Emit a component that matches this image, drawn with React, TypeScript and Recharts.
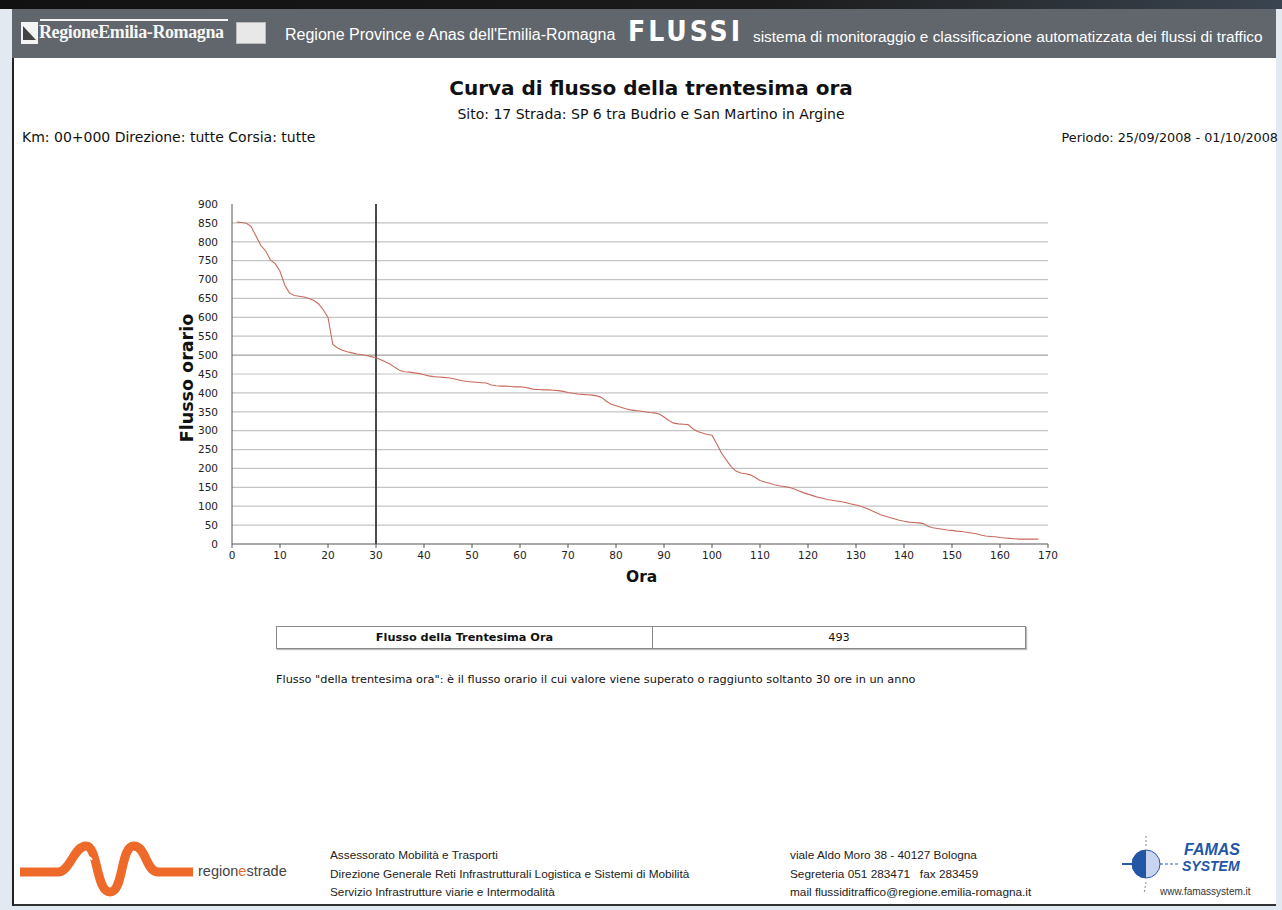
import React from 'react';
import { LineChart, Line, XAxis, YAxis, ReferenceLine } from 'recharts';

const hours: number[] = [
  1, 2, 3, 4, 5, 6, 7, 8, 9, 10, 11, 12, 13, 14, 15, 16, 17, 18, 19, 20,
  21, 22, 23, 24, 25, 26, 27, 28, 29, 30, 31, 32, 33, 34, 35, 36, 37, 38, 39, 40,
  41, 42, 43, 44, 45, 46, 47, 48, 49, 50, 51, 52, 53, 54, 55, 56, 57, 58, 59, 60,
  61, 62, 63, 64, 65, 66, 67, 68, 69, 70, 71, 72, 73, 74, 75, 76, 77, 78, 79, 80,
  81, 82, 83, 84, 85, 86, 87, 88, 89, 90, 91, 92, 93, 94, 95, 96, 97, 98, 99, 100,
  101, 102, 103, 104, 105, 106, 107, 108, 109, 110, 111, 112, 113, 114, 115, 116, 117, 118, 119, 120,
  121, 122, 123, 124, 125, 126, 127, 128, 129, 130, 131, 132, 133, 134, 135, 136, 137, 138, 139, 140,
  141, 142, 143, 144, 145, 146, 147, 148, 149, 150, 151, 152, 153, 154, 155, 156, 157, 158, 159, 160,
  161, 162, 163, 164, 165, 166, 167, 168,
];

const flows: number[] = [
  852, 851, 849, 840, 815, 790, 776, 752, 742, 722, 685, 664, 658, 656, 654, 650, 645, 636, 620, 600,
  528, 519, 513, 509, 506, 503, 501, 499, 496, 493, 488, 482, 476, 467, 459, 456, 455, 453, 451, 448,
  445, 443, 442, 441, 440, 438, 435, 432, 430, 429, 428, 427, 426, 421, 419, 418, 418, 417, 416, 416,
  415, 412, 409, 409, 408, 408, 407, 406, 404, 401, 399, 397, 396, 395, 394, 392, 388, 378, 370, 366,
  362, 358, 355, 353, 352, 350, 348, 347, 344, 336, 327, 320, 318, 317, 316, 305, 298, 294, 290, 288,
  265, 240, 222, 205, 193, 188, 186, 183, 176, 168, 164, 161, 157, 154, 152, 150, 146, 141, 136, 132,
  128, 124, 121, 118, 116, 114, 112, 109, 106, 103, 100, 95, 90, 84, 78, 74, 70, 67, 63, 60,
  58, 57, 56, 54, 47, 43, 41, 39, 37, 36, 34, 33, 31, 29, 27, 24, 21, 20, 19, 17,
  16, 15, 14, 13, 13, 13, 13, 13,
];

const xTicks: number[] = [0, 10, 20, 30, 40, 50, 60, 70, 80, 90, 100, 110, 120, 130, 140, 150, 160, 170];
const yTicks: number[] = [0, 50, 100, 150, 200, 250, 300, 350, 400, 450, 500, 550, 600, 650, 700, 750, 800, 850, 900];
const gridValues: number[] = [50, 100, 150, 200, 250, 300, 350, 400, 450, 500, 550, 600, 650, 700, 750, 800, 850];
const thirtiethHour = 30;
const thirtiethFlow = 493;

const data = hours.map((h, i) => ({ hour: h, flow: flows[i] }));

const sans = "'DejaVu Sans', Verdana, sans-serif";
const arial = "'Liberation Sans', Arial, sans-serif";

const abs = (left: number, top: number, extra: React.CSSProperties = {}): React.CSSProperties => ({
  position: 'absolute',
  left,
  top,
  whiteSpace: 'nowrap',
  ...extra,
});

export default function App() {
  return (
    <div style={{ position: 'absolute', left: 0, top: 0, width: 1282, height: 910, overflow: 'hidden', background: '#e3e9f0', fontFamily: sans }}>
      {/* top dark strip */}
      <div style={abs(0, 0, { width: 1282, height: 9, background: 'linear-gradient(90deg,#111 0%,#1b1b1b 60%,#3a4450 100%)' })} />
      {/* page frame */}
      <div style={abs(12, 9, { width: 1264, height: 897, background: '#ffffff', borderLeft: '2px solid #222', borderBottom: '2px solid #333', boxSizing: 'border-box' })} />
      {/* header bar */}
      <div style={abs(12, 9, { width: 1264, height: 49, background: '#60666c' })} />
      {/* Regione logo */}
      <div style={abs(21, 22, { width: 17, height: 22, background: '#f4f4f4' })} />
      <svg style={abs(21, 22)} width={17} height={22}>
        <path d="M2,4 L15,18 L2,18 Z" fill="#444" />
      </svg>
      <div style={abs(40, 19, { width: 188, height: 2, background: '#f4f4f4' })} />
      <div style={abs(39, 22, { color: '#f6f6f6', fontFamily: "'Liberation Serif', 'DejaVu Serif', serif", fontWeight: 'bold', fontSize: 18, letterSpacing: -0.4 })}>
        RegioneEmilia-Romagna
      </div>
      <div style={abs(236, 22, { width: 30, height: 22, background: '#e8e8e8', border: '1px solid #bbb', boxSizing: 'border-box' })} />
      <div style={abs(285, 26, { color: '#ffffff', fontFamily: arial, fontSize: 16 })}>
        Regione Province e Anas dell'Emilia-Romagna
      </div>
      <div style={abs(628, 15, { color: '#ffffff', fontFamily: "'DejaVu Sans Condensed', 'DejaVu Sans', sans-serif", fontWeight: 'bold', fontSize: 28, letterSpacing: 3 })}>
        FLUSSI
      </div>
      <div style={abs(753, 28, { color: '#ffffff', fontFamily: arial, fontSize: 15.4 })}>
        sistema di monitoraggio e classificazione automatizzata dei flussi di traffico
      </div>

      {/* titles */}
      <div style={abs(0, 76, { width: 1302, textAlign: 'center', fontSize: 20, fontWeight: 'bold', color: '#111' })}>
        Curva di flusso della trentesima ora
      </div>
      <div style={abs(0, 106, { width: 1302, textAlign: 'center', fontSize: 14, color: '#111' })}>
        Sito: 17 Strada: SP 6 tra Budrio e San Martino in Argine
      </div>
      <div style={abs(22, 129, { fontSize: 14, color: '#111' })}>
        Km: 00+000 Direzione: tutte Corsia: tutte
      </div>
      <div style={abs(878, 130, { width: 400, textAlign: 'right', fontSize: 12.8, color: '#111' })}>
        Periodo: 25/09/2008 - 01/10/2008
      </div>

      {/* chart */}
      <div style={abs(150, 190)}>
        <LineChart width={920} height={420} data={data} margin={{ top: 14, right: 22, bottom: 26, left: 22 }}>
          {gridValues.map((v) => (
            <ReferenceLine key={v} y={v} stroke={v === 500 ? '#a0a0a0' : '#c4c4c4'} strokeWidth={1.2} ifOverflow="extendDomain" />
          ))}
          <XAxis
            dataKey="hour"
            type="number"
            domain={[0, 170]}
            ticks={xTicks}
            interval={0}
            stroke="#555"
            tickSize={4}
            tickMargin={4}
            tick={{ fontSize: 10.5, fill: '#222', fontFamily: sans }}
            height={40}
          />
          <YAxis
            type="number"
            domain={[0, 900]}
            ticks={yTicks}
            interval={0}
            stroke="#555"
            tickLine={false}
            tickMargin={8}
            tick={{ fontSize: 10.5, fill: '#222', fontFamily: sans }}
            width={60}
          />
          <ReferenceLine x={thirtiethHour} stroke="#4a4a4a" strokeWidth={2} />
          <Line
            type="linear"
            dataKey="flow"
            stroke="#c96a5e"
            strokeWidth={1.1}
            dot={false}
            isAnimationActive={false}
          />
        </LineChart>
      </div>
      <div style={abs(626, 568, { fontSize: 15.5, fontWeight: 'bold', color: '#111' })}>Ora</div>
      <div style={abs(187, 378, { fontSize: 17.5, fontWeight: 'bold', color: '#111', transform: 'translate(-50%,-50%) rotate(-90deg)' })}>
        Flusso orario
      </div>

      {/* table */}
      <div style={abs(276, 626, { width: 750, height: 23, border: '1px solid #8a8a8a', boxSizing: 'border-box', display: 'flex', fontSize: 11.3, color: '#111', boxShadow: '1px 1px 1px #bbb' })}>
        <div style={{ width: 375, borderRight: '1px solid #8a8a8a', textAlign: 'center', fontWeight: 'bold', lineHeight: '21px' }}>
          Flusso della Trentesima Ora
        </div>
        <div style={{ flex: 1, textAlign: 'center', lineHeight: '21px' }}>{thirtiethFlow}</div>
      </div>
      <div style={abs(276, 673, { fontSize: 11.3, color: '#111' })}>
        Flusso "della trentesima ora": è il flusso orario il cui valore viene superato o raggiunto soltanto 30 ore in un anno
      </div>

      {/* footer: regionestrade logo */}
      <svg style={abs(18, 838)} width={180} height={60}>
        <path d="M2,34 L40,34 C52,34 56,8 68,8 C80,8 78,54 92,54 C106,54 102,8 116,8 C128,8 128,34 140,34 L175,34" fill="none" stroke="#ee6a2a" strokeWidth={9} strokeLinecap="butt" />
        <path d="M60,30 C66,18 70,16 74,22" fill="none" stroke="#ffffff" strokeWidth={2} />
      </svg>
      <div style={abs(198, 863, { fontFamily: arial, fontSize: 14.5, color: '#444' })}>
        region<span style={{ color: '#ee6a2a' }}>e</span>strade
      </div>
      <div style={abs(330, 846, { fontFamily: arial, fontSize: 11.8, color: '#222', lineHeight: '18.5px' })}>
        Assessorato Mobilità e Trasporti<br />
        Direzione Generale Reti Infrastrutturali Logistica e Sistemi di Mobilità<br />
        Servizio Infrastrutture viarie e Intermodalità
      </div>
      <div style={abs(790, 846, { fontFamily: arial, fontSize: 11.8, color: '#222', lineHeight: '18.5px' })}>
        viale Aldo Moro 38 - 40127 Bologna<br />
        Segreteria 051 283471 &nbsp; fax 283459<br />
        mail flussiditraffico@regione.emilia-romagna.it
      </div>
      {/* FAMAS logo */}
      <svg style={abs(1118, 834)} width={64} height={64}>
        <line x1={4} y1={30} x2={14} y2={30} stroke="#2a5aa8" strokeWidth={2} />
        <circle cx={28} cy={30} r={14} fill="#c9d5ef" stroke="#2a5aa8" strokeWidth={1} />
        <path d="M28,16 A14,14 0 0,0 28,44 Z" fill="#2356a6" />
        <line x1={42} y1={30} x2={60} y2={30} stroke="#2a5aa8" strokeWidth={1} strokeDasharray="3,2" />
        <line x1={28} y1={2} x2={28} y2={12} stroke="#888" strokeWidth={1} strokeDasharray="2,2" />
        <line x1={28} y1={48} x2={26} y2={60} stroke="#888" strokeWidth={1} strokeDasharray="2,2" />
      </svg>
      <div style={abs(1184, 842, { fontFamily: arial, fontSize: 16, fontWeight: 'bold', fontStyle: 'italic', color: '#2356a6', lineHeight: '16px' })}>
        FAMAS
      </div>
      <div style={abs(1182, 859, { fontFamily: arial, fontSize: 14, fontWeight: 'bold', fontStyle: 'italic', color: '#2356a6', lineHeight: '15px' })}>
        SYSTEM
      </div>
      <div style={abs(1160, 886, { fontFamily: arial, fontSize: 10, color: '#333' })}>www.famassystem.it</div>
    </div>
  );
}
